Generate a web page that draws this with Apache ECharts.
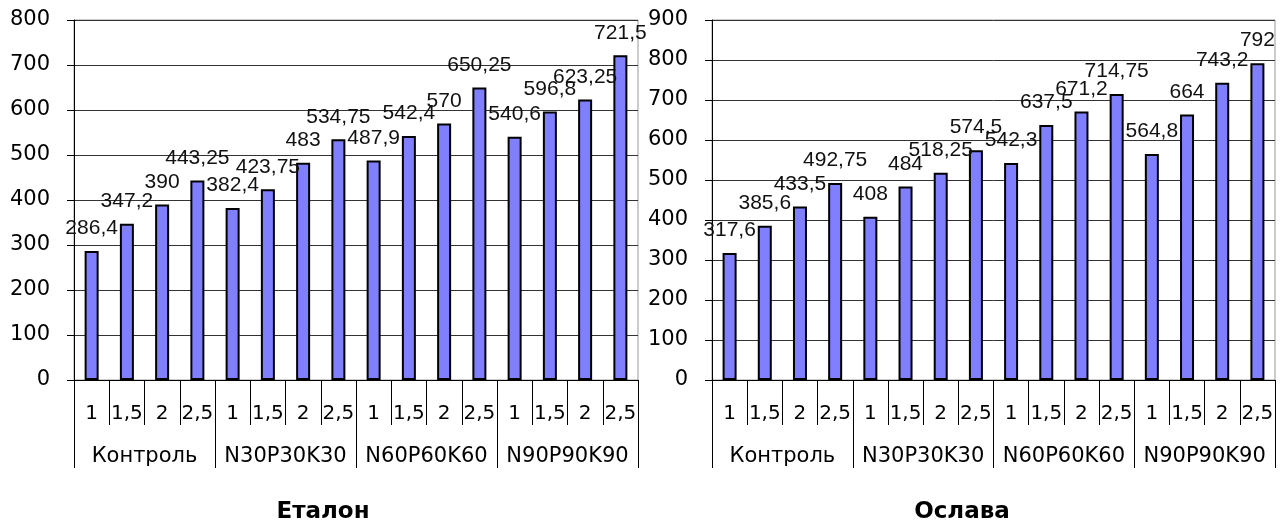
<!DOCTYPE html>
<html>
<head>
<meta charset="utf-8">
<script src="https://cdn.jsdelivr.net/npm/echarts@6/dist/echarts.min.js"></script>
<style>
  html, body { margin: 0; padding: 0; background: #fff; }
  #chart { width: 1284px; height: 522px; }
</style>
</head>
<body>
<div id="chart"></div>
<script>
// Doses within each fertiliser background
const doses = ['1', '1,5', '2', '2,5', '1', '1,5', '2', '2,5', '1', '1,5', '2', '2,5', '1', '1,5', '2', '2,5'];
// Fertiliser backgrounds (group labels)
const groups = ['Контроль', 'N30P30K30', 'N60P60K60', 'N90P90K90'];
// Variety names
const titles = ['Еталон', 'Ослава'];
// Values per variety
const etalonValues = [286.4, 347.2, 390, 443.25, 382.4, 423.75, 483, 534.75, 487.9, 542.4, 570, 650.25, 540.6, 596.8, 623.25, 721.5];
const oslavaValues = [317.6, 385.6, 433.5, 492.75, 408, 484, 518.25, 574.5, 542.3, 637.5, 671.2, 714.75, 564.8, 664, 743.2, 792];
// Value axis ranges
const yMax = [800, 900];
const yStep = 100;

const chart = echarts.init(document.getElementById('chart'), null, { renderer: 'canvas' });

const grids = [
  { left: 74, right: 646, top: 20, bottom: 142 },
  { left: 712, right: 9, top: 20, bottom: 142 }
].map(g => Object.assign(g, {
  show: true, borderColor: '#999', borderWidth: 1, backgroundColor: '#fff',
  containLabel: false, outerBoundsMode: 'none'
}));

const xAxes = [];
const yAxes = [];
const series = [];
const seriesData = [etalonValues, oslavaValues];

const fmt = v => String(v).replace('.', ',');

[0, 1].forEach(i => {
  xAxes.push({
    type: 'category', gridIndex: i, data: doses, position: 'bottom',
    axisLine: { show: true, lineStyle: { color: '#000', width: 1 } },
    axisTick: { show: true, interval: 0, length: 45, lineStyle: { color: '#000', width: 1 } },
    axisLabel: { interval: 0, margin: 24, color: '#000', fontFamily: 'DejaVu Sans', fontSize: 20 },
    splitLine: { show: false }
  });
  xAxes.push({
    type: 'category', gridIndex: i, data: groups, position: 'bottom',
    axisLine: { show: false },
    axisTick: { show: true, interval: 0, length: 88, lineStyle: { color: '#000', width: 1 } },
    axisLabel: { interval: 0, margin: 66, color: '#000', fontFamily: 'DejaVu Sans', fontSize: 21 },
    splitLine: { show: false }
  });
  yAxes.push({
    type: 'value', gridIndex: i, min: 0, max: yMax[i], interval: yStep,
    axisLine: { show: true, lineStyle: { color: '#000', width: 1 } },
    axisTick: { show: true, length: 7, lineStyle: { color: '#000', width: 1 } },
    axisLabel: { margin: 24, color: '#000', fontFamily: 'DejaVu Sans', fontSize: 21 },
    splitLine: { show: true, lineStyle: { color: '#333', width: 1 } }
  });
  series.push({
    type: 'bar', xAxisIndex: i * 2, yAxisIndex: i, data: seriesData[i],
    barWidth: 14,
    itemStyle: { color: '#8080FF', borderColor: '#000', borderWidth: 2 },
    label: {
      show: true, position: 'top', distance: 12,
      fontFamily: 'Liberation Sans', fontSize: 21, color: '#111',
      formatter: p => fmt(p.value)
    },
    animation: false
  });
});

chart.setOption({
  animation: false,
  title: [
    { text: titles[0], left: 318, top: 496, textAlign: 'center',
      textStyle: { fontFamily: 'DejaVu Sans', fontWeight: 'bold', fontSize: 23, color: '#000' } },
    { text: titles[1], left: 957, top: 496, textAlign: 'center',
      textStyle: { fontFamily: 'DejaVu Sans', fontWeight: 'bold', fontSize: 23, color: '#000' } }
  ],
  grid: grids,
  xAxis: xAxes,
  yAxis: yAxes,
  series: series
});
</script>
</body>
</html>
